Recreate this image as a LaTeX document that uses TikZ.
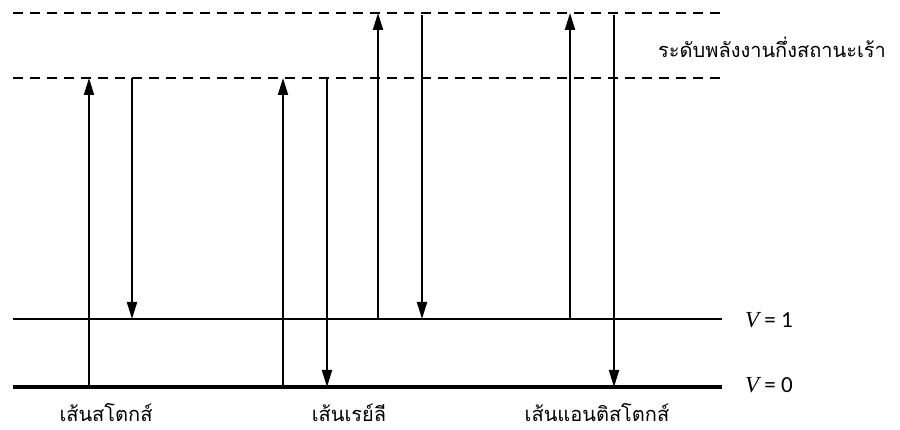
\documentclass[tikz,border=0pt]{standalone}
\usepackage{fontspec}
\usetikzlibrary{arrows.meta}
\newfontfamily\thaifont[Script=Thai]{Loma}
\newfontfamily\lblsans{Carlito}
\newfontfamily\lblserif{Liberation Serif}
\begin{document}
\begin{tikzpicture}[x=1pt,y=-1pt,
  lvl/.style={line width=2pt},
  gnd/.style={line width=3.2pt},
  virt/.style={line width=2pt,dash pattern=on 10pt off 7pt},
  tr/.style={line width=2pt,-{Triangle[length=17pt,width=10pt]}},
  thlabel/.style={font=\thaifont\fontsize{20}{24}\selectfont,inner sep=0pt},
  vlabel/.style={font=\lblsans\fontsize{23}{26}\selectfont,inner sep=0pt,anchor=west}]
\useasboundingbox (0,0) rectangle (900,430);
% levels
\coordinate (t0) at (13,13);   \coordinate (t1) at (722,13);
\coordinate (m0) at (13,78);   \coordinate (m1) at (722,78);
\coordinate (a0) at (13,319);  \coordinate (a1) at (722,319);
\coordinate (g0) at (13,387);  \coordinate (g1) at (722,387);
\draw[virt] (t0) -- (t1);
\draw[virt] (m0) -- (m1);
\draw[lvl] (a0) -- (a1);
\draw[gnd] (g0) -- (g1);
% Stokes
\coordinate (s1b) at (89,387);  \coordinate (s1t) at (89,78);
\coordinate (s2t) at (132,78);  \coordinate (s2b) at (132,319);
\draw[tr] (s1b) -- (s1t);
\draw[tr] (s2t) -- (s2b);
% Rayleigh
\coordinate (r1b) at (283,387); \coordinate (r1t) at (283,78);
\coordinate (r2t) at (327,78);  \coordinate (r2b) at (327,387);
\draw[tr] (r1b) -- (r1t);
\draw[tr] (r2t) -- (r2b);
% middle pair
\coordinate (c1b) at (378,319); \coordinate (c1t) at (378,13);
\coordinate (c2t) at (422,15);  \coordinate (c2b) at (422,319);
\draw[tr] (c1b) -- (c1t);
\draw[tr] (c2t) -- (c2b);
% anti-Stokes
\coordinate (x1b) at (570,319); \coordinate (x1t) at (570,13);
\coordinate (x2t) at (614,15);  \coordinate (x2b) at (614,387);
\draw[tr] (x1b) -- (x1t);
\draw[tr] (x2t) -- (x2b);
% labels
\node[thlabel] (virtlbl) at (772,47) {ระดับพลังงานกึ่งสถานะเร้า};
\node[vlabel] (v1) at (745,320) {{\lblserif\itshape V} = 1};
\node[vlabel] (v0) at (745,385) {{\lblserif\itshape V} = 0};
\node[thlabel] (lstokes) at (106,413) {เส้นสโตกส์};
\node[thlabel] (lray) at (349,413) {เส้นเรย์ลี};
\node[thlabel] (lanti) at (597,413) {เส้นแอนติสโตกส์};
\end{tikzpicture}
\end{document}
